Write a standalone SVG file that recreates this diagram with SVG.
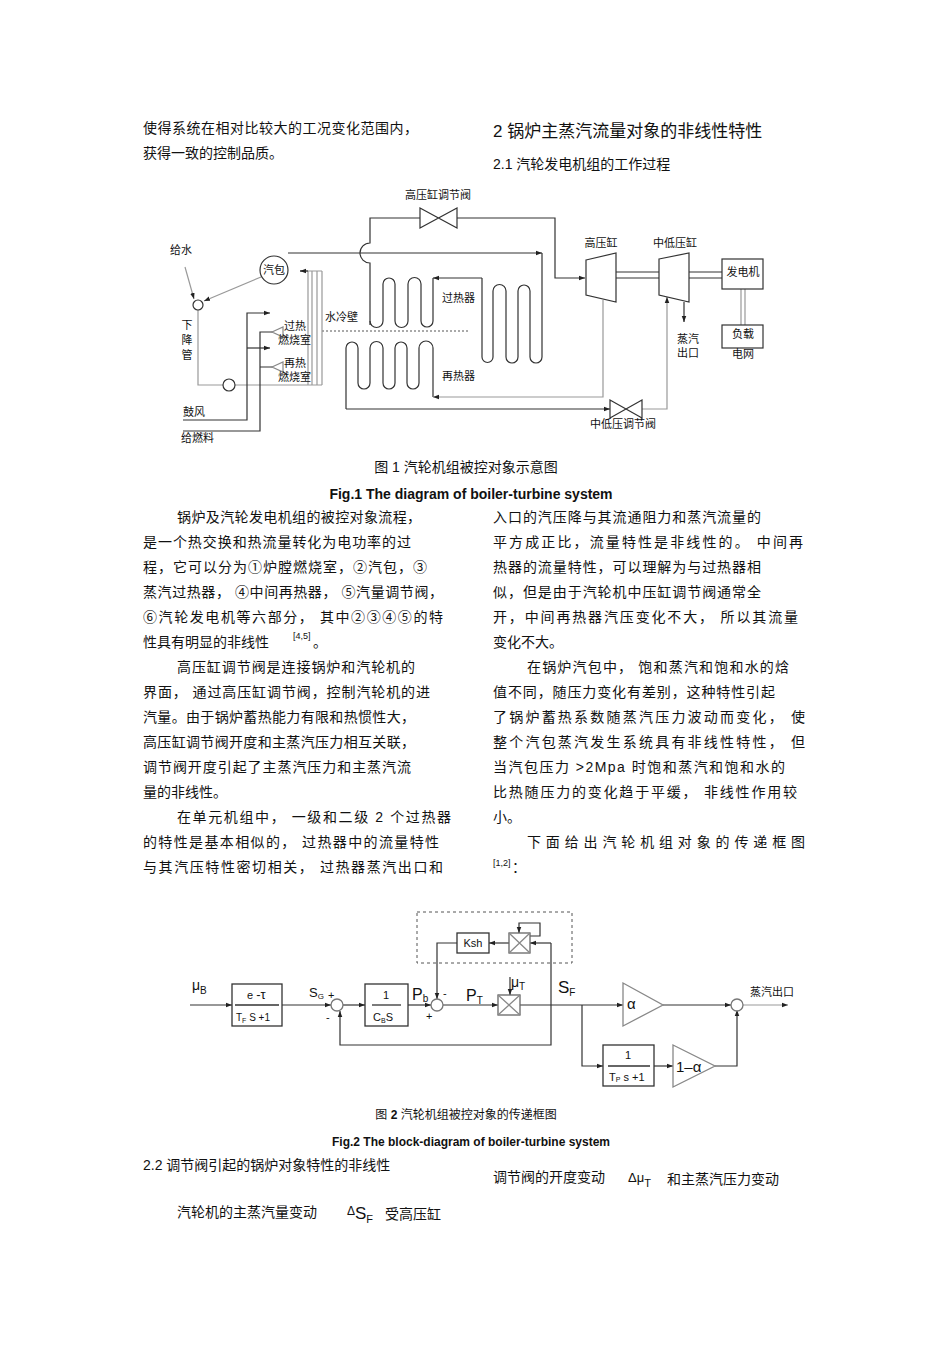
<svg xmlns="http://www.w3.org/2000/svg" width="950" height="1345" viewBox="0 0 950 1345">
<defs>
<marker id="ar" viewBox="0 0 8 8" refX="8" refY="4" markerWidth="6" markerHeight="6" orient="auto" markerUnits="userSpaceOnUse"><path d="M0,1 L8,4 L0,7 z" fill="#222"/></marker>
</defs>
<style>
text{font-family:"Liberation Sans","Noto Sans CJK SC",sans-serif;fill:#111}
.b text{font-size:14px}
.s text{font-size:11px}
text.sf,.sf text{font-family:"Liberation Sans","Noto Sans CJK SC",sans-serif}
.l{fill:none;stroke:#333;stroke-width:1.2}
.g{fill:none;stroke:#999;stroke-width:1.2}
.m{marker-end:url(#ar)}
</style>
<rect width="950" height="1345" fill="#fff"/>
<!-- body text -->
<g class="b">
<text x="143" y="133" textLength="275" lengthAdjust="spacing">使得系统在相对比较大的工况变化范围内，</text>
<text x="143" y="158">获得一致的控制品质。</text>
<text x="493" y="137" style="font-size:17px">2 锅炉主蒸汽流量对象的非线性特性</text>
<text x="493" y="169">2.1  汽轮发电机组的工作过程</text>
<text x="177" y="522" textLength="244" lengthAdjust="spacing">锅炉及汽轮发电机组的被控对象流程，</text>
<text x="143" y="547" textLength="268" lengthAdjust="spacing">是一个热交换和热流量转化为电功率的过</text>
<text x="143" y="572" textLength="284" lengthAdjust="spacing">程，它可以分为①炉膛燃烧室，②汽包，③</text>
<text x="143" y="597" textLength="300" lengthAdjust="spacing">蒸汽过热器，  ④中间再热器，  ⑤汽量调节阀，</text>
<text x="143" y="622" textLength="300" lengthAdjust="spacing">⑥汽轮发电机等六部分，    其中②③④⑤的特</text>
<text x="143" y="647">性具有明显的非线性</text><text x="293" y="639" style="font-size:9px">[4,5]</text><text x="313" y="647">。</text>
<text x="177" y="672" textLength="238" lengthAdjust="spacing">高压缸调节阀是连接锅炉和汽轮机的</text>
<text x="143" y="697" textLength="287" lengthAdjust="spacing">界面，  通过高压缸调节阀，控制汽轮机的进</text>
<text x="143" y="722" textLength="272" lengthAdjust="spacing">汽量。由于锅炉蓄热能力有限和热惯性大，</text>
<text x="143" y="747" textLength="272" lengthAdjust="spacing">高压缸调节阀开度和主蒸汽压力相互关联，</text>
<text x="143" y="772" textLength="268" lengthAdjust="spacing">调节阀开度引起了主蒸汽压力和主蒸汽流</text>
<text x="143" y="797">量的非线性。</text>
<text x="177" y="822" textLength="274" lengthAdjust="spacing">在单元机组中，   一级和二级   2 个过热器</text>
<text x="143" y="847" textLength="296" lengthAdjust="spacing">的特性是基本相似的，    过热器中的流量特性</text>
<text x="143" y="872" textLength="300" lengthAdjust="spacing">与其汽压特性密切相关，    过热器蒸汽出口和</text>
<text x="493" y="522" textLength="268" lengthAdjust="spacing">入口的汽压降与其流通阻力和蒸汽流量的</text>
<text x="493" y="547" textLength="310" lengthAdjust="spacing">平方成正比，流量特性是非线性的。    中间再</text>
<text x="493" y="572" textLength="268" lengthAdjust="spacing">热器的流量特性，可以理解为与过热器相</text>
<text x="493" y="597" textLength="268" lengthAdjust="spacing">似，但是由于汽轮机中压缸调节阀通常全</text>
<text x="493" y="622" textLength="305" lengthAdjust="spacing">开，中间再热器汽压变化不大，    所以其流量</text>
<text x="493" y="647">变化不大。</text>
<text x="527" y="672" textLength="262" lengthAdjust="spacing">在锅炉汽包中，   饱和蒸汽和饱和水的焓</text>
<text x="493" y="697" textLength="282" lengthAdjust="spacing">值不同，随压力变化有差别，这种特性引起</text>
<text x="493" y="722" textLength="312" lengthAdjust="spacing">了锅炉蓄热系数随蒸汽压力波动而变化，     使</text>
<text x="493" y="747" textLength="312" lengthAdjust="spacing">整个汽包蒸汽发生系统具有非线性特性，     但</text>
<text x="493" y="772" textLength="292" lengthAdjust="spacing">当汽包压力   &gt;2Mpa   时饱和蒸汽和饱和水的</text>
<text x="493" y="797" textLength="304" lengthAdjust="spacing">比热随压力的变化趋于平缓，     非线性作用较</text>
<text x="493" y="822">小。</text>
<text x="527" y="847" textLength="278" lengthAdjust="spacing">下 面 给 出 汽 轮 机 组 对 象 的 传 递 框 图</text>
<text x="493" y="866" style="font-size:9px">[1,2]</text><text x="512" y="872">：</text>
<text x="466" y="472" text-anchor="middle">图  1  汽轮机组被控对象示意图</text>
<text x="471" y="499" text-anchor="middle" font-weight="bold">Fig.1 The diagram of boiler-turbine system</text>
<text x="466" y="1119" text-anchor="middle" style="font-size:12px">图  <tspan font-weight="bold">2</tspan>  汽轮机组被控对象的传递框图</text>
<text x="471" y="1146" text-anchor="middle" font-weight="bold" style="font-size:12px">Fig.2 The block-diagram of boiler-turbine system</text>
<text x="143" y="1170">2.2  调节阀引起的锅炉对象特性的非线性</text>
<text x="493" y="1182">调节阀的开度变动</text>
<text x="628" y="1182" style="font-size:13px">Δμ<tspan font-size="11" dy="5">T</tspan></text>
<text x="667" y="1184">和主蒸汽压力变动</text>
<text x="177" y="1217">汽轮机的主蒸汽量变动</text>
<text x="347" y="1215" style="font-size:12px">Δ<tspan font-size="17" dy="4">S</tspan><tspan font-size="11" dy="4">F</tspan></text>
<text x="385" y="1219">受高压缸</text>
</g>
<!-- Figure 1 -->
<g id="fig1-connectors">
<path class="l" d="M370,325 V263 A10,10 0 0 1 370,243 V218 H420"/>
<path class="l m" d="M457,218 H555 V278 H585"/>
<path class="l m" d="M288,253 H542"/>
<path class="l" d="M542,253 V357 A6,6 0 0 1 530,357 V291 A6,6 0 0 0 518,291 V357 A6,6 0 0 1 506,357 V291 A6,6 0 0 0 493,291 V357 A5.5,5.5 0 0 1 482,357 V278"/>
<path class="l m" d="M482,278 H433"/>
<path class="l" d="M433,278 V321 A6,6 0 0 1 421,321 V284 A6,6 0 0 0 408,284 V321 A6,6 0 0 1 395,321 V284 A6,6 0 0 0 383,284 V321 A6.5,6.5 0 0 1 370,321"/>
<path class="l" d="M346,409 V348 A6,6 0 0 1 358,348 V383 A6,6 0 0 0 370,383 V348 A6,6 0 0 1 383,348 V383 A6,6 0 0 0 395,383 V348 A6,6 0 0 1 407,348 V383 A6,6 0 0 0 419,383 V348 A7,7 0 0 1 433,348 V397"/>
<path class="g m" d="M603,300 V397 H433"/>
<path class="l m" d="M346,409 H610"/>
<path class="g m" d="M642,409 H667 V297"/>
<path class="l m" d="M684,302 V322"/>
<line x1="322" y1="331" x2="470" y2="331" stroke="#555" stroke-dasharray="2,2"/>
<path class="g m" d="M185,267 L194,299"/>
<path class="g m" d="M261,277 L204,301"/>
<path class="g" d="M198,310 V385 H223 M235,385 H322"/>
<path class="g" d="M308,271 V385 M312,271 V385 M317,271 V385 M322,271 V385 M300,271 H322"/>
<path class="l m" d="M308,271 H300"/>
<path class="l m" d="M183,420 H247 V313 H270"/>
<path class="l m" d="M247,348 H270"/>
<path class="l" d="M183,431 H260 V332 H273 M260,367 H273"/>
<path class="g" d="M741,289 V325 M745,289 V325"/>
<path class="l" d="M616,272 H659 M616,278 H659 M689,272 H722 M689,278 H722"/>
</g>
<g id="fig1-nodes" fill="#fff" stroke="#333" stroke-width="1.2">
<g id="hp-valve"><path d="M420,208 L457,228 L457,208 L420,228 Z"/></g>
<g id="ip-valve"><path d="M610,400 L642,418 L642,400 L610,418 Z"/></g>
<g id="drum"><circle cx="274" cy="270" r="14"/></g>
<g id="node1"><circle cx="198" cy="305" r="5"/></g>
<g id="node2"><circle cx="229" cy="385" r="6"/></g>
<g id="burner1"><path d="M272,332 L283,327 L283,337 Z" stroke="#888"/></g>
<g id="burner2"><path d="M272,367 L283,362 L283,372 Z" stroke="#888"/></g>
<g id="hp-turbine"><path d="M586,260 L616,253 L616,302 L586,295 Z"/></g>
<g id="ip-turbine"><path d="M659,259 L689,253 L689,302 L659,295 Z"/></g>
<g id="generator"><rect x="722" y="259" width="41" height="30"/></g>
<g id="load"><rect x="722" y="325" width="41" height="23"/></g>
</g>
<g class="s">
<text x="438" y="199" text-anchor="middle">高压缸调节阀</text>
<text x="181" y="254" text-anchor="middle">给水</text>
<text x="274" y="274" text-anchor="middle">汽包</text>
<text x="187" y="329" text-anchor="middle">下</text>
<text x="187" y="344" text-anchor="middle">降</text>
<text x="187" y="359" text-anchor="middle">管</text>
<text x="284" y="330">过热</text>
<text x="278" y="344">燃烧室</text>
<text x="284" y="367">再热</text>
<text x="278" y="381">燃烧室</text>
<text x="325" y="321">水冷壁</text>
<text x="183" y="416">鼓风</text>
<text x="181" y="442">给燃料</text>
<text x="442" y="302">过热器</text>
<text x="442" y="380">再热器</text>
<text x="601" y="247" text-anchor="middle">高压缸</text>
<text x="675" y="247" text-anchor="middle">中低压缸</text>
<text x="743" y="276" text-anchor="middle">发电机</text>
<text x="743" y="338" text-anchor="middle">负载</text>
<text x="743" y="358" text-anchor="middle">电网</text>
<text x="688" y="343" text-anchor="middle">蒸汽</text>
<text x="688" y="357" text-anchor="middle">出口</text>
<text x="623" y="428" text-anchor="middle">中低压调节阀</text>
</g>
<!-- Figure 2 -->
<g id="fig2-connectors">
<path class="l m" d="M190,1005 H232"/>
<path class="l m" d="M282,1005 H331"/>
<path class="l m" d="M343,1005 H365"/>
<path class="l m" d="M408,1005 H431"/>
<path class="l m" d="M443,1005 H498"/>
<path class="l m" d="M510,977 V995"/>
<path class="l" d="M520,1005 H582"/>
<path class="l m" d="M551,943 V1045 H340 V1011"/>
<path class="l m" d="M551,943 H530"/>
<path class="l m" d="M530,936 H540 V923 H519 V933"/>
<path class="l m" d="M509,943 H489"/>
<path class="l m" d="M457,943 H437 V999"/>
<path class="l m" d="M582,1005 H623"/>
<path class="l m" d="M663,1005 H731"/>
<path class="g m" d="M743,1005 H788"/>
<path class="l m" d="M582,1005 V1066 H603"/>
<path class="l m" d="M654,1066 H673"/>
<path class="l m" d="M715,1066 H737 V1010"/>
<rect x="417" y="912" width="155" height="51" fill="none" stroke="#555" stroke-dasharray="3,3"/>
</g>
<g id="fig2-nodes" stroke="#333" stroke-width="1.3" fill="#fff">
<g id="delay"><rect x="232" y="984" width="50" height="42"/><line x1="235" y1="1005" x2="279" y2="1005"/></g>
<g id="sum1"><circle cx="337" cy="1005" r="6" stroke="#777"/></g>
<g id="integ"><rect x="365" y="984" width="43" height="42"/><line x1="372" y1="1005" x2="401" y2="1005"/></g>
<g id="sum2"><circle cx="437" cy="1005" r="6" stroke="#777"/></g>
<g id="mult1"><rect x="498" y="995" width="22" height="20" stroke="#666"/><path d="M498,995 L520,1015 M520,995 L498,1015" stroke="#888"/></g>
<g id="ksh"><rect x="457" y="933" width="32" height="20"/></g>
<g id="mult2"><rect x="509" y="933" width="21" height="20" stroke="#666"/><path d="M509,933 L530,953 M530,933 L509,953" stroke="#888"/></g>
<g id="alpha"><path d="M623,983 L663,1005 L623,1026 Z" stroke="#888"/></g>
<g id="sum3"><circle cx="737" cy="1005" r="6" stroke="#777"/></g>
<g id="lag"><rect x="603" y="1045" width="51" height="41"/><line x1="608" y1="1066" x2="650" y2="1066"/></g>
<g id="alpha2"><path d="M673,1045 L715,1066 L673,1087 Z" stroke="#888"/></g>
</g>
<g style="font-size:11px">
<text x="192" y="990" style="font-size:14px">μ<tspan font-size="10" dy="4">B</tspan></text>
<text x="247" y="999" style="font-size:11px">e <tspan font-size="13">-τ</tspan></text>
<text x="236" y="1021" style="font-size:10px">T<tspan font-size="7" dy="2">F</tspan><tspan dy="-2"> S  +1</tspan></text>
<text x="309" y="997" style="font-size:13px">S<tspan font-size="8" dy="2">G</tspan></text>
<text x="328" y="999" style="font-size:11px">+</text><text x="326" y="1021" style="font-size:11px">-</text>
<text x="386" y="999" text-anchor="middle" style="font-size:11px">1</text>
<text x="373" y="1021" style="font-size:11px">C<tspan font-size="7" dy="2">B</tspan><tspan dy="-2">S</tspan></text>
<text x="412" y="1000" style="font-size:16px">P<tspan font-size="10" dy="2">b</tspan></text>
<text x="426" y="1020" style="font-size:11px">+</text><text x="443" y="997" style="font-size:11px">-</text>
<text x="466" y="1001" style="font-size:16px">P<tspan font-size="10" dy="3">T</tspan></text>
<text x="511" y="987" style="font-size:14px">μ<tspan font-size="10" dy="3">T</tspan></text>
<text x="473" y="947" text-anchor="middle" style="font-size:11px">Ksh</text>
<text x="558" y="993" style="font-size:17px">S<tspan font-size="10" dy="3">F</tspan></text>
<text x="627" y="1009" style="font-size:15px">α</text>
<text x="750" y="996" style="font-size:11px">蒸汽出口</text>
<text x="628" y="1059" text-anchor="middle" style="font-size:11px">1</text>
<text x="609" y="1081" style="font-size:11px">T<tspan font-size="7" dy="1">P</tspan><tspan dy="-1"> s  +1</tspan></text>
<text x="676" y="1072" style="font-size:15px">1–α</text>
</g>
</svg>
